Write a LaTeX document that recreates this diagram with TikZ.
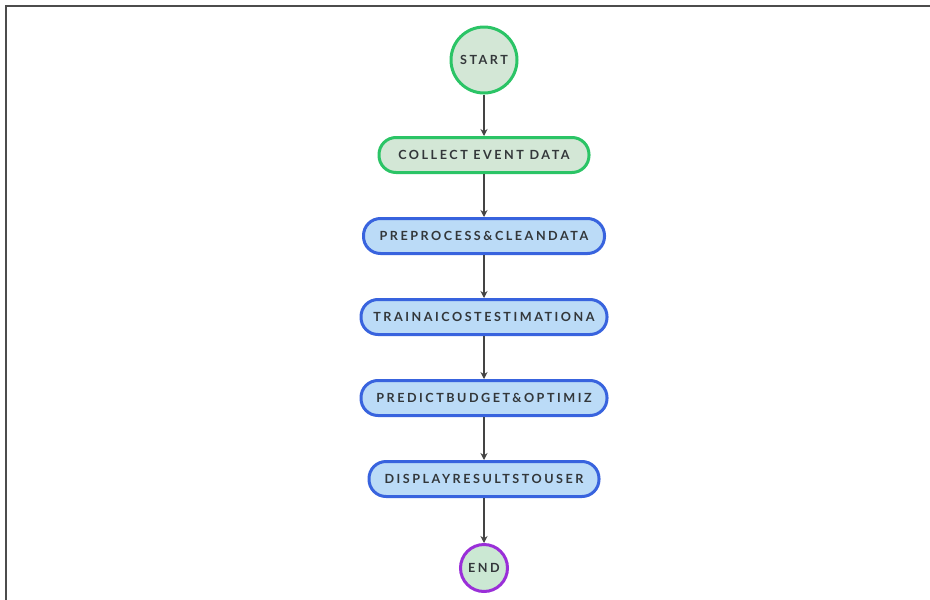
\documentclass[tikz,border=0pt]{standalone}
\usepackage{fontspec}
\usetikzlibrary{arrows.meta}

\newfontfamily\boxfont[LetterSpace=20]{Lato}

\definecolor{startgreen}{HTML}{2BC466}
\definecolor{greenfill}{HTML}{D3E7D6}
\definecolor{stepblue}{HTML}{3863DE}
\definecolor{bluefill}{HTML}{BBDBF7}
\definecolor{endpurple}{HTML}{9A2FD8}
\definecolor{endfill}{HTML}{CBE8D3}
\definecolor{labelgray}{HTML}{33373A}
\definecolor{linkgray}{HTML}{444444}

\tikzset{%
  every box/.style={
    rectangle,
    rounded corners=17pt,
    draw=stepblue,
    fill=bluefill,
    line width=3pt,
    minimum height=35pt,
    inner sep=0pt,
    text=labelgray,
    font=\boxfont\bfseries\fontsize{12.6}{14}\selectfont
  },
  box 1/.style={
    draw=startgreen,
    fill=greenfill
  },
  terminal/.style={
    circle,
    line width=3pt,
    inner sep=0pt,
    text=labelgray,
    font=\boxfont\bfseries\fontsize{12.6}{14}\selectfont
  },
}

\begin{document}
\begin{tikzpicture}[x=1pt, y=-1pt, >={Stealth[length=7pt,width=7pt]}]
\useasboundingbox (0,0) rectangle (930,600);

% frame
\draw [line width=2pt, black!70] (6,600) -- (6,6) -- (930,6);

\node [terminal, draw=startgreen, fill=greenfill, minimum size=66pt] (start) at (484,60) {START};

\foreach \l/\w [count=\i] in {COLLECT EVENT DATA/210,
                              PREPROCESS\&CLEANDATA/241,
                              TRAINAICOSTESTIMATIONA/246,
                              PREDICTBUDGET\&OPTIMIZ/246,
                              DISPLAYRESULTSTOUSER/230}
  \node [every box/.try, box \i/.try, minimum width=\w pt] (box-\i) at (484,155+81*\i-81) {\l};

\node [terminal, draw=endpurple, fill=endfill, minimum size=47pt] (finish) at (484,568) {END};

% connectors
\draw [->, linkgray, line width=1.3pt] (start) -- (box-1);
\foreach \i [count=\j from 2] in {1,...,4}
  \draw [->, linkgray, line width=1.3pt] (box-\i) -- (box-\j);
\draw [->, linkgray, line width=1.3pt] (box-5) -- (finish);

\end{tikzpicture}
\end{document}
